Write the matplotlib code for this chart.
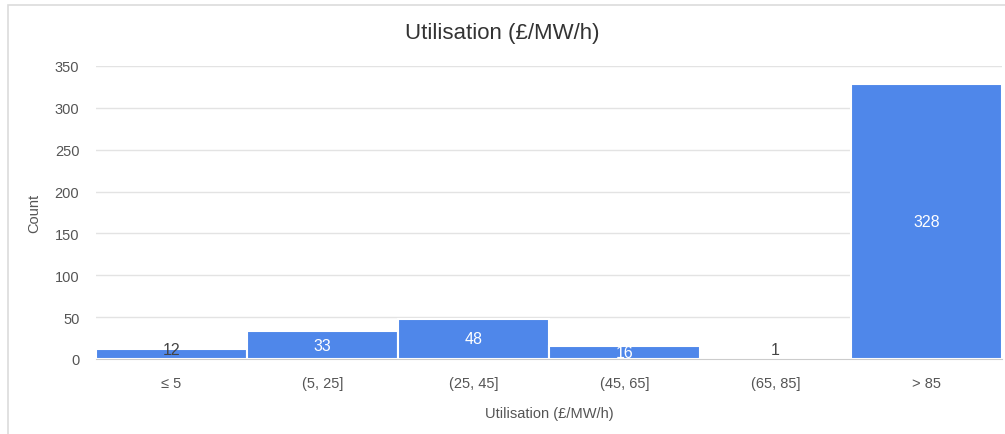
import matplotlib
matplotlib.use("Agg")
import matplotlib.pyplot as plt
from matplotlib.patches import Rectangle

plt.rcParams['font.family'] = ['Liberation Sans', 'DejaVu Sans']

categories = ["≤ 5", "(5, 25]", "(25, 45]", "(45, 65]", "(65, 85]", "> 85"]
counts = [12, 33, 48, 16, 1, 328]
yticks = [0, 50, 100, 150, 200, 250, 300, 350]

BAR = "#4f87ea"
GRID = "#e3e3e3"
TXT = "#555555"

fig = plt.figure(figsize=(10.05, 4.35), dpi=100)
fig.patch.set_facecolor("white")

# light card frame around the chart
fig.add_artist(Rectangle((8 / 1005, -0.05), 1.2, 1 - 6 / 435 + 0.05,
                         transform=fig.transFigure, fill=False,
                         edgecolor="#dcdcdc", linewidth=1.2))

ax = fig.add_axes([96 / 1005, 1 - 360 / 435, (1002 - 96) / 1005, (360 - 67) / 435])
x = list(range(len(categories)))
bars = ax.bar(x, counts, width=1.0, color=BAR, edgecolor="white", linewidth=1.5, zorder=3)

ax.set_xlim(-0.5, len(categories) - 0.5)
ax.set_ylim(0, 350)
ax.set_yticks(yticks)
ax.set_xticks(x)
ax.set_xticklabels(categories)
ax.yaxis.grid(True, color=GRID, linewidth=1.0, zorder=0)
ax.set_axisbelow(True)
for s in ["top", "right", "left"]:
    ax.spines[s].set_visible(False)
ax.spines["bottom"].set_color("#cccccc")
ax.spines["bottom"].set_zorder(4)
ax.tick_params(axis="both", length=0, labelsize=10.5, labelcolor=TXT)
ax.tick_params(axis="y", pad=12)
ax.tick_params(axis="x", pad=12)

# value labels: inside (white) when the bar is tall enough, otherwise dark
for xi, v in zip(x, counts):
    if v >= 16:
        ax.text(xi, v / 2, str(v), ha="center", va="center", color="white",
                fontsize=11.5, zorder=5)
    else:
        ax.text(xi, 11, str(v), ha="center", va="center", color="#444444",
                fontsize=11.5, zorder=5)

ax.set_xlabel("Utilisation (£/MW/h)", fontsize=10.5, color=TXT, labelpad=12)
ax.set_ylabel("Count", fontsize=10.5, color=TXT, labelpad=10)
fig.text(0.5, 1 - 33 / 435, "Utilisation (£/MW/h)", ha="center", va="center",
         fontsize=16, color="#333333")

fig.savefig("out.png", dpi=100)
